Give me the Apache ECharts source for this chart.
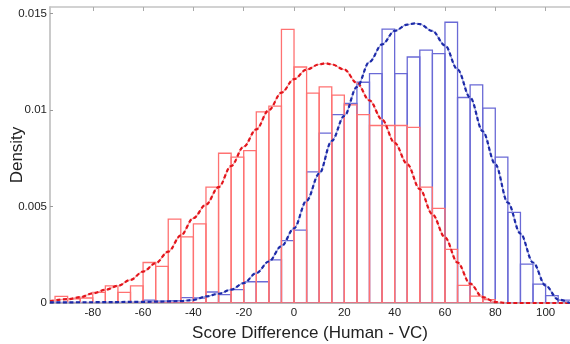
<!DOCTYPE html>
<html>
<head>
<meta charset="utf-8">
<script src="https://cdn.jsdelivr.net/npm/echarts@6/dist/echarts.min.js"></script>
<style>
  html, body { margin: 0; padding: 0; background: #fff; }
  #chart { width: 570px; height: 344px; }
</style>
</head>
<body>
<div id="chart"></div>
<script>
// Histogram bins: left edge of each 5-point bin
const binWidth = 5;
const binStarts = [-95, -90, -85, -80, -75, -70, -65, -60, -55, -50, -45, -40, -35, -30, -25, -20, -15, -10, -5,
  0, 5, 10, 15, 20, 25, 30, 35, 40, 45, 50, 55, 60, 65, 70, 75, 80, 85, 90, 95, 100, 105];

// Red histogram densities (one per bin)
const redDensity = [0.00034, 0.00022, 0.00026, 0.00055, 0.00089, 0.00055, 0.00089, 0.0021, 0.0019, 0.00435,
  0.00343, 0.0041, 0.0060, 0.00776, 0.00756, 0.0079, 0.0099, 0.0102, 0.01418,
  0.01223, 0.01088, 0.0112, 0.01077, 0.01027, 0.00976, 0.0092, 0.0092, 0.0092, 0.0091, 0.0060,
  0.0049, 0.00278, 0.00091, 0.00036, 0.00017, 0, 0, 0, 0, 0, 0];

// Blue histogram densities (one per bin)
const blueDensity = [0, 0, 0, 0, 0, 0, 0, 0.00015, 0.0001, 0.00012,
  0.00028, 0.00026, 0.00057, 0.00043, 0.00069, 0.0011, 0.0011, 0.00223, 0.00323,
  0.00378, 0.0068, 0.0088, 0.00976, 0.01034, 0.01144, 0.01189, 0.01419, 0.01189, 0.01275, 0.01311,
  0.01292, 0.01455, 0.01065, 0.0113, 0.0101, 0.00756, 0.0047, 0.00201, 0.00098, 0.00038, 0.00015];

// Fitted density curves
const redCurveX = [-97, -90, -85, -80, -75, -70, -65, -60, -55, -50, -45, -40, -35, -30, -25, -20, -15, -10, -5,
  0, 5, 10, 12.5, 15, 20, 25, 30, 35, 40, 45, 50, 55, 60, 65, 70, 75, 80, 85, 95, 109.7];
const redCurveY = [0.0001, 0.0002, 0.0003, 0.0005, 0.00068, 0.00089, 0.0012, 0.00163, 0.00206, 0.00266,
  0.0035, 0.0044, 0.0051, 0.006, 0.0071, 0.0081, 0.009, 0.01, 0.0109,
  0.0116, 0.0121, 0.01237, 0.01242, 0.01237, 0.0121, 0.0114, 0.0105, 0.0095, 0.0083, 0.0072, 0.0059,
  0.0046, 0.0034, 0.0021, 0.001, 0.0003, 0.00005, 0, 0, 0];

const blueCurveX = [-97, -80, -60, -50, -45, -40, -35, -30, -25, -20, -15, -10, -5,
  0, 5, 10, 15, 20, 25, 30, 35, 40, 45, 48, 50, 55, 60, 65, 70, 75, 80, 85, 90, 95, 100, 105, 109.7];
const blueCurveY = [0.00003, 0.00004, 0.00006, 0.00008, 0.0001, 0.00016, 0.00034, 0.00048, 0.00069, 0.00103, 0.00155, 0.00215, 0.00295,
  0.00387, 0.0053, 0.0067, 0.0084, 0.0097, 0.0112, 0.0125, 0.0134, 0.0141, 0.01443, 0.01449, 0.01445, 0.0141,
  0.01335, 0.0121, 0.01065, 0.0089, 0.0072, 0.0052, 0.0036, 0.0021, 0.0009, 0.00018, 0];

// Axis ticks
const xTicks = [-80, -60, -40, -20, 0, 20, 40, 60, 80, 100];
const yTicks = [0, 0.005, 0.01, 0.015];
const yTickLabels = ['0', '0.005', '0.01', '0.015'];

const X_MIN = -97, X_MAX = 109.7, Y_MAX = 0.01534;
const FONT = 'Liberation Sans, Arial, Helvetica, sans-serif';

function histData(values) {
  const out = [];
  binStarts.forEach((s, i) => {
    if (values[i] > 0) out.push([s, s + binWidth, values[i]]);
  });
  return out;
}

function histSeries(name, values, color, z) {
  return {
    name: name,
    type: 'custom',
    z: z,
    clip: true,
    data: histData(values),
    encode: { x: [0, 1], y: 2 },
    renderItem: function (params, api) {
      const p0 = api.coord([api.value(0), 0]);
      const p1 = api.coord([api.value(1), api.value(2)]);
      return {
        type: 'rect',
        shape: { x: p0[0], y: p1[1], width: p1[0] - p0[0], height: p0[1] - p1[1] },
        style: { fill: 'none', stroke: color, lineWidth: 1.3 }
      };
    }
  };
}

function curveSeries(xs, ys, color, halo, z) {
  const data = xs.map((x, i) => [x, ys[i]]);
  return [
    {
      type: 'line', data: data, z: z, smooth: 0.35, smoothMonotone: 'x', symbol: 'none',
      silent: true, lineStyle: { color: halo, width: 1.2 }
    },
    {
      type: 'line', data: data, z: z + 1, smooth: 0.35, smoothMonotone: 'x', symbol: 'none',
      silent: true, lineStyle: { color: color, width: 2.2, type: [4, 2.5] }
    }
  ];
}

const chart = echarts.init(document.getElementById('chart'), null, { renderer: 'canvas' });

chart.setOption({
  animation: false,
  backgroundColor: '#ffffff',
  grid: { left: 50, right: 0, top: 7, bottom: 41, containLabel: false, outerBoundsMode: 'none' },
  xAxis: [
    {
      type: 'value', min: X_MIN, max: X_MAX, position: 'bottom',
      name: 'Score Difference (Human - VC)', nameLocation: 'middle', nameGap: 22,
      nameMoveOverlap: false,
      nameTextStyle: { fontFamily: FONT, fontSize: 17, color: '#222' },
      axisLine: { show: true, onZero: false, lineStyle: { color: '#b8b8b8', width: 2 } },
      axisTick: { show: false },
      splitLine: { show: false },
      axisLabel: {
        customValues: xTicks, fontFamily: FONT, fontSize: 11.5, color: '#222', margin: 4,
        formatter: v => String(v)
      }
    },
    {
      type: 'value', min: X_MIN, max: X_MAX, position: 'top',
      axisLine: { show: true, onZero: false, lineStyle: { color: '#c4c4c4', width: 1.5 } },
      axisTick: { show: true, inside: true, length: 4, customValues: xTicks, lineStyle: { color: '#aaa' } },
      axisLabel: { show: false },
      splitLine: { show: false }
    }
  ],
  yAxis: {
    type: 'value', min: 0, max: Y_MAX,
    name: 'Density', nameLocation: 'middle', nameGap: 24, nameRotate: 90,
    nameMoveOverlap: false,
    nameTextStyle: { fontFamily: FONT, fontSize: 17, color: '#222' },
    axisLine: { show: true, onZero: false, lineStyle: { color: '#b8b8b8', width: 1.5 } },
    axisTick: { show: true, inside: true, length: 3, customValues: yTicks, lineStyle: { color: '#999' } },
    splitLine: { show: false },
    axisLabel: {
      customValues: yTicks, fontFamily: FONT, fontSize: 11.5, color: '#222', margin: 3,
      formatter: v => yTickLabels[yTicks.findIndex(t => Math.abs(t - v) < 1e-9)] ?? ''
    }
  },
  series: [
    histSeries('VC', blueDensity, '#6a6ad6', 2),
    histSeries('Human', redDensity, '#ff7272', 3),
    ...curveSeries(redCurveX, redCurveY, '#e3151c', '#f7a0a0', 5),
    ...curveSeries(blueCurveX, blueCurveY, '#1c2aa8', '#9aa0e0', 7)
  ]
});
</script>
</body>
</html>
